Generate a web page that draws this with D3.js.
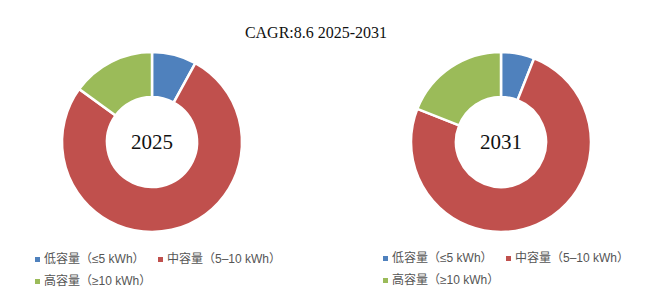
<!DOCTYPE html>
<html>
<head>
<meta charset="utf-8">
<script src="https://cdn.jsdelivr.net/npm/d3@7"></script>
<style>
  body { margin: 0; background: #fff; }
</style>
</head>
<body>
<div id="chart"></div>
<script>
// capacity groups and their share in each year (%)
const categories = ['低容量（≤5 kWh）', '中容量（5–10 kWh）', '高容量（≥10 kWh）'];
const years = ['2025', '2031'];
const share2025 = [8, 77, 15];
const share2031 = [6, 75, 19];
const title = 'CAGR:8.6 2025-2031';

const colors = ['#4F81BD', '#C0504D', '#9BBB59'];
const width = 654, height = 303;

const svg = d3.select('#chart').append('svg')
  .attr('width', width)
  .attr('height', height);

svg.append('text')
  .attr('x', 316)
  .attr('y', 38)
  .attr('text-anchor', 'middle')
  .style('font-family', '"Liberation Serif", "DejaVu Serif", serif')
  .style('font-size', '16px')
  .attr('fill', '#111')
  .text(title);

const pie = d3.pie().sort(null).value(d => d);
const arc = d3.arc().innerRadius(45).outerRadius(90);

const donuts = [
  {year: years[0], values: share2025, cx: 152, cy: 142},
  {year: years[1], values: share2031, cx: 501, cy: 142}
];

donuts.forEach(dn => {
  const g = svg.append('g').attr('transform', `translate(${dn.cx}, ${dn.cy})`);

  g.selectAll('path')
    .data(pie(dn.values))
    .enter()
    .append('path')
    .attr('d', arc)
    .attr('fill', (d, i) => colors[i])
    .attr('stroke', '#fff')
    .attr('stroke-width', 2.5);

  g.append('text')
    .attr('y', 7)
    .attr('text-anchor', 'middle')
    .style('font-family', '"Liberation Serif", "DejaVu Serif", serif')
    .style('font-size', '21px')
    .attr('fill', '#111')
    .text(dn.year);
});

// legends, one under each donut
const legendSpots = [{x: 37, y: 263}, {x: 385, y: 262}];
const itemPos = [{dx: 0, dy: 0}, {dx: 123, dy: 0}, {dx: 0, dy: 22}];

legendSpots.forEach(spot => {
  const lg = svg.append('g').attr('transform', `translate(${spot.x}, ${spot.y})`);
  const items = lg.selectAll('g')
    .data(categories)
    .enter()
    .append('g')
    .attr('transform', (d, i) => `translate(${itemPos[i].dx}, ${itemPos[i].dy})`);

  items.append('rect')
    .attr('x', -2)
    .attr('y', -6)
    .attr('width', 5)
    .attr('height', 5)
    .attr('fill', (d, i) => colors[i]);

  items.append('text')
    .attr('x', 7)
    .attr('y', 0)
    .style('font-family', '"Liberation Sans", "Noto Sans CJK SC", sans-serif')
    .style('font-size', '12px')
    .attr('fill', '#555')
    .text(d => d);
});
</script>
</body>
</html>
